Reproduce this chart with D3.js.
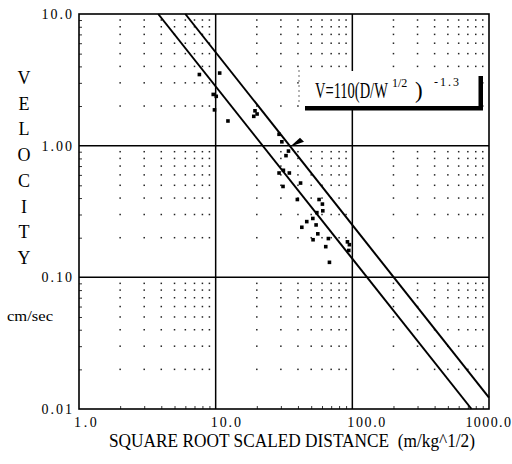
<!DOCTYPE html>
<html>
<head>
<meta charset="utf-8">
<script src="https://cdn.jsdelivr.net/npm/d3@7"></script>
<style>
  body { margin: 0; background: #fff; }
  svg text { font-family: "Liberation Serif", "DejaVu Serif", serif; fill: #000; white-space: pre; }
</style>
</head>
<body>
<svg id="chart" width="512" height="464"></svg>
<script>
// scaled distance (m/kg^1/2) and peak velocity (cm/sec)
const distance = [7.6, 10.7, 9.6, 10.1, 9.8, 12.3, 19.4, 20.1, 19.0, 29.1, 30.5, 34.1,
  32.7, 29.1, 31.3, 34.6, 31.1, 41.8, 39.6, 57.1, 60.4, 60.8, 55.0, 51.4, 46.4, 54.3,
  42.7, 55.9, 51.6, 66.8, 63.9, 92.1, 95.2, 94.2, 68.0];
const velocity = [3.47, 3.56, 2.45, 2.37, 1.87, 1.54, 1.84, 1.74, 1.67, 1.22, 1.07, 0.91,
  0.84, 0.62, 0.65, 0.62, 0.49, 0.52, 0.39, 0.39, 0.36, 0.32, 0.31, 0.28, 0.265, 0.25,
  0.24, 0.214, 0.193, 0.197, 0.171, 0.186, 0.177, 0.16, 0.13];

// the two bounding lines, end points
const upperLine = [[6.0, 10], [1000, 0.0122]];
const lowerLine = [[3.8, 10], [745, 0.01]];

const xTicks = [1, 10, 100, 1000];
const xTickLabels = ["1.0", "10.0", "100.0", "1000.0"];
const yTicks = [0.01, 0.1, 1, 10];
const yTickLabels = ["0.01", "0.10", "1.00", "10.0"];
const minorSteps = [2, 3, 4, 5, 6, 7, 8, 9];

// where the arrow of the equation box points
const arrowTip = [35, 0.98];

const svg = d3.select("#chart");
const mLeft = 79, mRight = 489, mTop = 14, mBottom = 409;

const x = d3.scaleLog().domain([1, 1000]).range([mLeft, mRight]);
const y = d3.scaleLog().domain([0.01, 10]).range([mBottom, mTop]);

const xMinor = xTicks.slice(0, -1).flatMap(d => minorSteps.map(m => d * m));
const yMinor = yTicks.slice(0, -1).flatMap(d => minorSteps.map(m => d * m));

// dotted grid: a dot at every minor/minor crossing
const dots = xMinor.flatMap(a => yMinor.map(b => [a, b]));
svg.append("g")
  .selectAll("rect")
  .data(dots)
  .join("rect")
  .attr("x", d => x(d[0]) - 0.75)
  .attr("y", d => y(d[1]) - 0.75)
  .attr("width", 1.5)
  .attr("height", 1.5)
  .attr("fill", "#222");

// small inside ticks on the axes
svg.append("g")
  .attr("transform", `translate(0,${mBottom})`)
  .call(d3.axisBottom(x).tickValues(xMinor).tickSize(-3).tickFormat(""))
  .call(g => g.select(".domain").remove())
  .call(g => g.selectAll("line").attr("stroke-width", 0.8));
svg.append("g")
  .attr("transform", `translate(${mLeft},0)`)
  .call(d3.axisLeft(y).tickValues(yMinor).tickSize(-3).tickFormat(""))
  .call(g => g.select(".domain").remove())
  .call(g => g.selectAll("line").attr("stroke-width", 0.8));

// decade grid lines
svg.append("g")
  .selectAll("line")
  .data(xTicks.slice(1, -1))
  .join("line")
  .attr("x1", d => x(d)).attr("x2", d => x(d))
  .attr("y1", mTop).attr("y2", mBottom)
  .attr("stroke", "#000").attr("stroke-width", 1.5);
svg.append("g")
  .selectAll("line")
  .data(yTicks.slice(1, -1))
  .join("line")
  .attr("y1", d => y(d)).attr("y2", d => y(d))
  .attr("x1", mLeft).attr("x2", mRight)
  .attr("stroke", "#000").attr("stroke-width", 1.5);

// frame
svg.append("rect")
  .attr("x", mLeft).attr("y", mTop)
  .attr("width", mRight - mLeft).attr("height", mBottom - mTop)
  .attr("fill", "none").attr("stroke", "#000").attr("stroke-width", 1.6);

// bounding lines
const line = d3.line().x(d => x(d[0])).y(d => y(d[1]));
svg.append("g")
  .selectAll("path")
  .data([upperLine, lowerLine])
  .join("path")
  .attr("d", line)
  .attr("fill", "none")
  .attr("stroke", "#000")
  .attr("stroke-width", 2);

// data points
svg.append("g")
  .selectAll("rect")
  .data(distance.map((d, i) => [d, velocity[i]]))
  .join("rect")
  .attr("x", d => x(d[0]) - 1.8)
  .attr("y", d => y(d[1]) - 1.8)
  .attr("width", 3.6)
  .attr("height", 3.6)
  .attr("fill", "#000");

// equation box
const box = svg.append("g");
box.append("rect")
  .attr("x", 299).attr("y", 71).attr("width", 181).attr("height", 36)
  .attr("fill", "#fff");
box.append("line")
  .attr("x1", 299).attr("x2", 299).attr("y1", 70).attr("y2", 102)
  .attr("stroke", "#444").attr("stroke-width", 0.8).attr("stroke-dasharray", "2,3");
box.append("rect")
  .attr("x", 305).attr("y", 106).attr("width", 178).attr("height", 4.5)
  .attr("fill", "#000");
box.append("rect")
  .attr("x", 478.5).attr("y", 76).attr("width", 4.5).attr("height", 34)
  .attr("fill", "#000");
// condensed with a transform so the text box stays the drawn size
box.append("text")
  .attr("transform", "translate(315,98) scale(0.63,1)")
  .attr("font-size", 23)
  .text("V=110(D/W");
box.append("text")
  .attr("x", 392).attr("y", 87)
  .attr("font-size", 12)
  .text("1/2");
box.append("text")
  .attr("x", 415).attr("y", 98)
  .attr("font-size", 23)
  .text(")");
box.append("text")
  .attr("x", 434).attr("y", 86)
  .attr("font-size", 12)
  .attr("letter-spacing", 2)
  .text("-1.3");

// arrow head pointing at the upper line
const tx = x(arrowTip[0]), ty = y(arrowTip[1]);
svg.append("path")
  .attr("d", `M${tx},${ty} L${tx + 10},${ty - 9} L${tx + 14},${ty - 5} Z`)
  .attr("fill", "#000");

// tick labels
svg.append("g")
  .selectAll("text")
  .data(xTicks)
  .join("text")
  .attr("x", (d, i) => Math.min(x(d) - 5, 511 - xTickLabels[i].length * 7.6))
  .attr("y", 427)
  .attr("font-size", 14)
  .attr("textLength", (d, i) => xTickLabels[i].length * 7.6)
  .attr("lengthAdjust", "spacing")
  .text((d, i) => xTickLabels[i]);
svg.append("g")
  .selectAll("text")
  .data(yTicks)
  .join("text")
  .attr("x", 72)
  .attr("y", d => y(d) + 5)
  .attr("text-anchor", "end")
  .attr("font-size", 14)
  .attr("textLength", (d, i) => yTickLabels[i].length * 7.6)
  .attr("lengthAdjust", "spacing")
  .text((d, i) => yTickLabels[i]);

// axis titles
svg.append("text")
  .attr("x", 109).attr("y", 447)
  .attr("font-size", 18)
  .attr("textLength", 366).attr("lengthAdjust", "spacingAndGlyphs")
  .text("SQUARE ROOT SCALED DISTANCE  (m/kg^1/2)");

svg.append("g")
  .selectAll("text")
  .data("VELOCITY".split(""))
  .join("text")
  .attr("x", 24)
  .attr("y", (d, i) => 84 + i * 25.7)
  .attr("text-anchor", "middle")
  .attr("font-size", 18)
  .text(d => d);

svg.append("text")
  .attr("x", 30).attr("y", 321)
  .attr("text-anchor", "middle")
  .attr("font-size", 14)
  .attr("textLength", 46).attr("lengthAdjust", "spacingAndGlyphs")
  .text("cm/sec");
</script>
</body>
</html>
